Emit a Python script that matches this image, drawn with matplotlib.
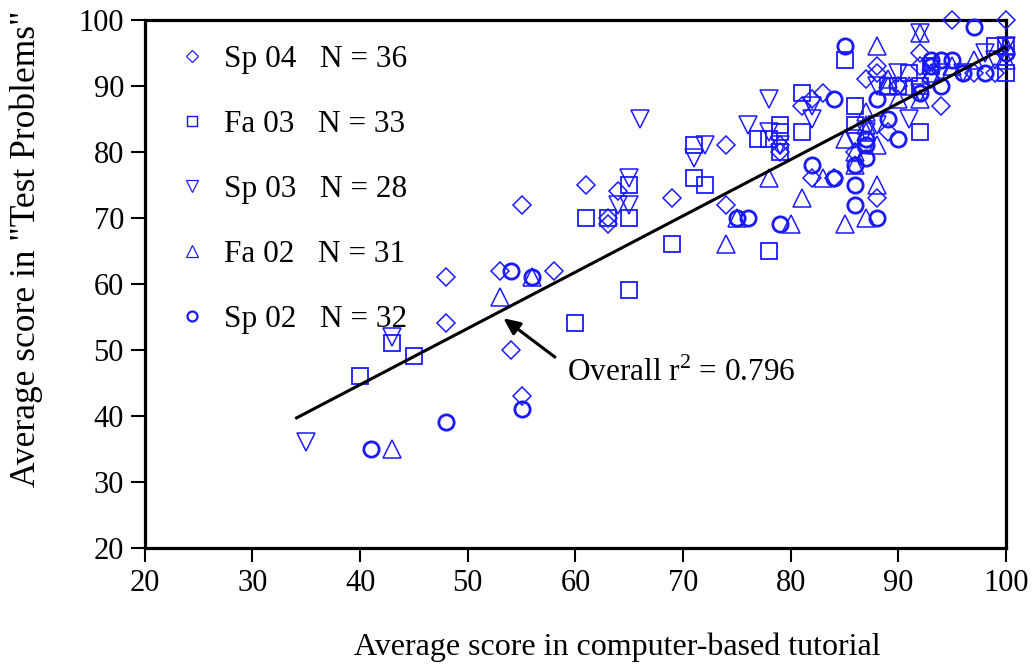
import numpy as np
import matplotlib
matplotlib.use('Agg')
import matplotlib.pyplot as plt
from matplotlib.lines import Line2D

plt.rcParams['font.family'] = ['Liberation Serif', 'DejaVu Serif']
plt.rcParams['mathtext.fontset'] = 'custom'
plt.rcParams['mathtext.rm'] = 'Liberation Serif'

# data
sp04_x = [55, 61, 64, 63, 69, 58, 48, 48, 53, 54, 55, 74, 74, 79, 81, 83, 82, 95, 100, 92,
          88, 88, 87, 94, 99, 88, 89, 82, 84, 79, 92, 97, 86, 90, 63, 93]
sp04_y = [72, 75, 74, 69, 73, 62, 61, 54, 62, 50, 43, 81, 72, 81, 87, 89, 76, 100, 100, 95,
          93, 92, 91, 87, 92, 73, 83, 88, 76, 80, 93, 92, 80, 90, 70, 91]

fa03_x = [40, 43, 45, 60, 65, 61, 63, 65, 65, 69, 71, 71, 72, 77, 79, 79, 79, 81, 81, 86,
          86, 78, 85, 91, 90, 92, 100, 100, 78, 92, 89, 93, 99]
fa03_y = [46, 51, 49, 54, 59, 70, 70, 70, 75, 66, 81, 76, 75, 82, 84, 83, 80, 89, 83, 87,
          84, 65, 94, 92, 90, 83, 96, 92, 82, 90, 90, 93, 96]

sp03_x = [35, 43, 65, 64, 65, 66, 71, 72, 76, 78, 78, 82, 82, 92, 88, 91, 98, 92, 94, 100,
          79, 87, 96, 90, 88, 86, 93, 99]
sp03_y = [36, 52, 76, 72, 72, 85, 79, 81, 84, 88, 83, 87, 85, 98, 90, 85, 95, 89, 92, 96,
          81, 83, 92, 92, 84, 82, 91, 94]

fa02_x = [43, 53, 56, 74, 75, 78, 80, 81, 83, 85, 87, 88, 86, 88, 85, 87, 87, 89, 88, 92,
          97, 100, 92, 100, 93, 91, 87, 95, 89, 86, 90]
fa02_y = [35, 58, 61, 66, 70, 76, 69, 73, 76, 69, 70, 75, 78, 81, 82, 83, 86, 91, 96, 98,
          94, 94, 88, 96, 92, 90, 84, 93, 90, 80, 88]

sp02_x = [41, 48, 54, 56, 55, 75, 76, 79, 82, 84, 84, 85, 86, 86, 86, 87, 87, 87, 88, 88,
          89, 90, 92, 93, 93, 94, 94, 95, 96, 97, 98, 100]
sp02_y = [35, 39, 62, 61, 41, 70, 70, 69, 78, 76, 88, 96, 78, 75, 72, 79, 81, 82, 88, 70,
          85, 82, 89, 94, 93, 94, 90, 94, 92, 99, 92, 95]

series_names = ['Sp 04', 'Fa 03', 'Sp 03', 'Fa 02', 'Sp 02']
series_n = [36, 33, 28, 31, 32]

# overall linear fit as printed on the chart
fit_slope = 0.853
fit_intercept = 10.6
fit_x = [34.1, 100]
r2 = 0.796

blue = '#1a1aff'

fig = plt.figure(figsize=(10.34, 6.64), dpi=100)
ax = fig.add_axes([0.140, 0.175, 0.833, 0.795])

series = [(sp04_x, sp04_y, 'D', 9, 1.1),
          (fa03_x, fa03_y, 's', 11, 1.3),
          (sp03_x, sp03_y, 'v', 12.5, 1.1),
          (fa02_x, fa02_y, '^', 12.5, 1.1),
          (sp02_x, sp02_y, 'o', 11, 2.0)]

handles = []
for (xs, ys, m, ms, lw), name, n in zip(series, series_names, series_n):
    ax.plot(xs, ys, linestyle='none', marker=m, markersize=ms, markerfacecolor='none',
            markeredgecolor=blue, markeredgewidth=lw, clip_on=False, zorder=3)
    handles.append(Line2D([], [], linestyle='none', marker=m, markersize=ms * 0.65,
                          markerfacecolor='none', markeredgecolor=blue,
                          markeredgewidth=lw * 0.8,
                          label='%s   N = %d' % (name, n)))

fx = np.array(fit_x)
ax.plot(fx, fit_slope * fx + fit_intercept, color='black', linewidth=2.2, zorder=4)

# arrow and label for r^2
ax.annotate('', xy=(53.3, 54.8), xytext=(58.1, 48.9),
            arrowprops=dict(arrowstyle='-|>,head_length=1.0,head_width=0.45',
                            color='black', lw=2.2, shrinkA=0, shrinkB=0))
ax.text(59.2, 46.5, 'Overall r$^{\\mathrm{2}}$ = %.3f' % r2, fontsize=22.5,
        va='center', ha='left')

leg = ax.legend(handles=handles, loc='upper left', frameon=False, fontsize=22.5,
                labelspacing=1.15, handlelength=1.4, handletextpad=0.35,
                borderaxespad=0.4, bbox_to_anchor=(0.0, 1.0))

ax.set_xlim(20, 100)
ax.set_ylim(20, 100)
ax.set_xticks(np.arange(20, 101, 10))
ax.set_yticks(np.arange(20, 101, 10))
ax.tick_params(axis='both', direction='out', length=10, width=1.5, labelsize=22,
               top=False, right=False, pad=5)
for s in ax.spines.values():
    s.set_linewidth(2.3)

ax.set_xlabel('Average score in computer-based tutorial', fontsize=23)
ax.xaxis.set_label_coords(0.549, -0.16)
ax.set_ylabel('Average score in "Test Problems"', fontsize=25.5)
ax.yaxis.set_label_coords(-0.118, 0.567)

fig.savefig('out.png', dpi=100)
